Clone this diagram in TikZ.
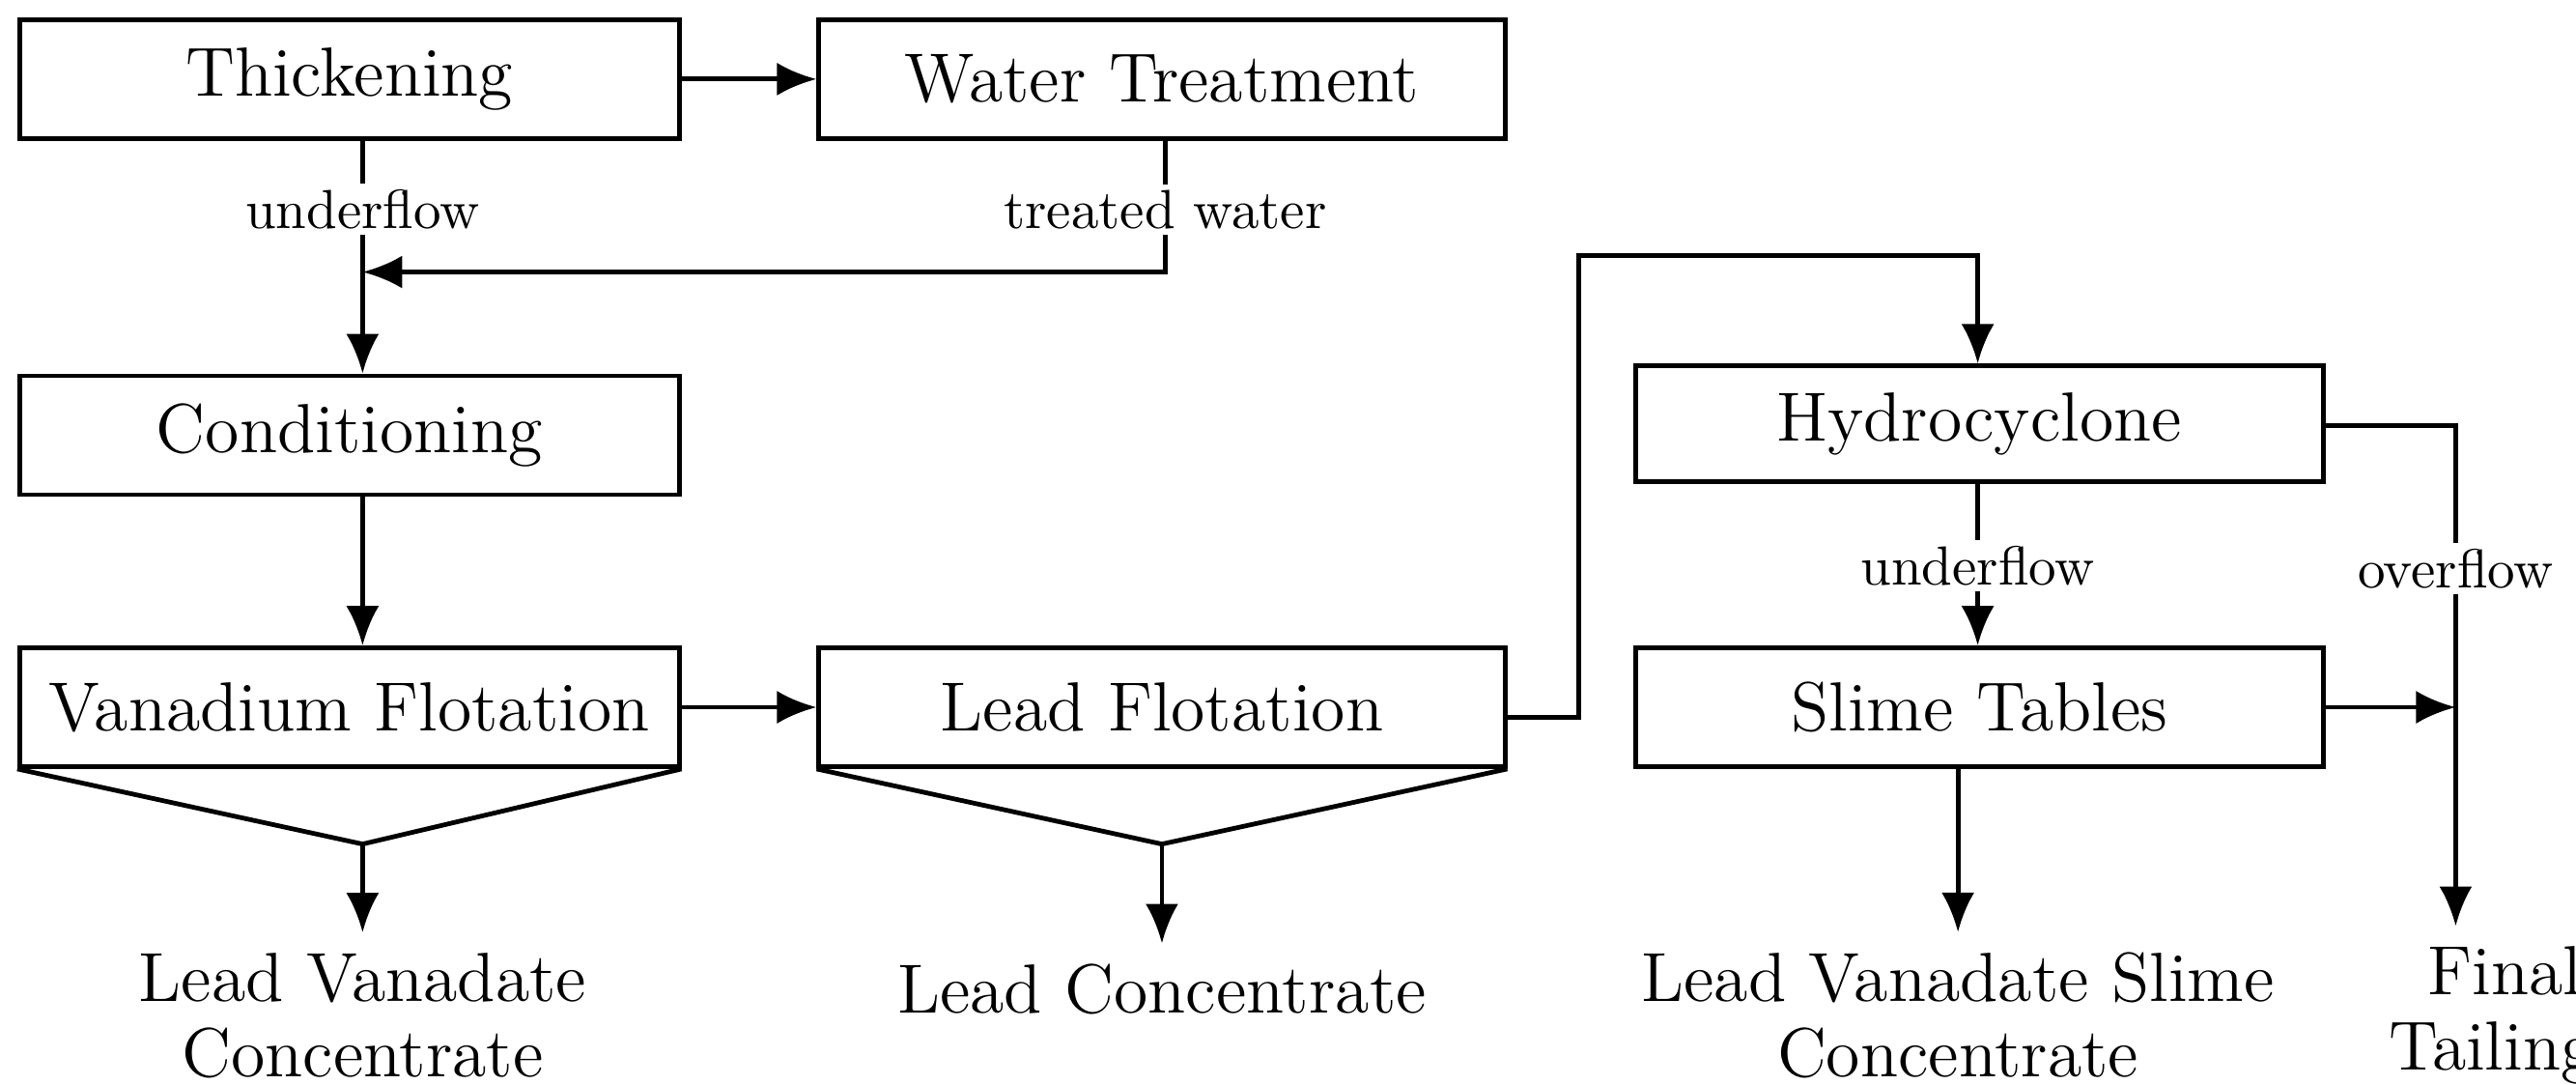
\documentclass[tikz,border=0pt]{standalone}
\usepackage{tikz}
\usetikzlibrary{arrows.meta, calc, positioning}
\tikzset{
  proc/.style={draw, thick, minimum width=4.0cm, minimum height=0.72cm, font=\fontsize{12}{14}\selectfont},
  flow/.style={thick, -{Latex[length=2.4mm, width=2mm]}},
  line/.style={thick},
  lab/.style={fill=white, inner sep=1pt, font=\fontsize{9.5}{11}\selectfont},
  product/.style={align=center, font=\fontsize{12}{13}\selectfont}
}
\begin{document}
\begin{tikzpicture}[x=0.01cm, y=-0.01cm]
        \useasboundingbox (0,0) rectangle (1563,658);
        % Process steps
        \node[proc] (thick) at (212,48) {Thickening};
        \node[proc, minimum width=4.16cm] (water) at (705,48) {Water Treatment};
        \node[proc] (cond) at (212,264) {Conditioning};
        \node[proc] (vflot) at (212,429) {Vanadium Flotation};
        \node[proc, minimum width=4.16cm] (lflot) at (705,429) {Lead Flotation};
        \node[proc, minimum width=4.17cm, minimum height=0.7cm] (hydro) at (1201,257) {Hydrocyclone};
        \node[proc, minimum width=4.17cm] (slime) at (1201,429) {Slime Tables};
        % Flotation cells
        \draw[line] (vflot.south west) -- (220,512) -- (vflot.south east);
        \draw[line] (lflot.south west) -- (705,512) -- (lflot.south east);
        \coordinate (vtip) at (220,512);
        \coordinate (ltip) at (705,512);
        % Products
        \node[product] (lvc) at (220,616) {Lead Vanadate\\Concentrate};
        \node[product] (lc) at (705,600) {Lead Concentrate};
        \node[product] (lvsc) at (1188,616) {Lead Vanadate Slime\\Concentrate};
        \node[product] (tail) at (1520,616) {Final\\Tailings};
        % Connectors
        \draw[flow] (thick) -- (water);
        \coordinate (join) at (220,165);
        \draw[flow] (thick.south -| join) -- (cond.north -| join);
        \node[lab] (uf1) at (220,127) {underflow};
        \draw[flow] (water.south -| 707,0) -- (707,165) -- (join);
        \node[lab] (tw) at (707,127) {treated water};
        \draw[flow] (cond.south -| join) -- (vflot.north -| join);
        \draw[flow] (vflot) -- (lflot);
        \draw[flow] (lflot.east |- 0,435) -- (958,435) -- (958,155) -- (1200,155) -- (hydro.north -| 1200,0);
        \draw[flow] (hydro.south -| 1200,0) -- (slime.north -| 1200,0);
        \node[lab] (uf2) at (1200,343) {underflow};
        \coordinate (tcol) at (1490,258);
        \draw[flow] (hydro.east |- tcol) -- (tcol) -- (tail.north -| tcol);
        \node[lab] (of) at (1490,345) {overflow};
        \draw[flow] (slime.east) -- (slime.east -| tcol);
        \draw[flow] (vtip) -- (lvc.north -| vtip);
        \draw[flow] (ltip) -- (lc.north -| ltip);
        \draw[flow] (slime.south -| 1188,0) -- (lvsc.north -| 1188,0);
      \end{tikzpicture}
\end{document}
